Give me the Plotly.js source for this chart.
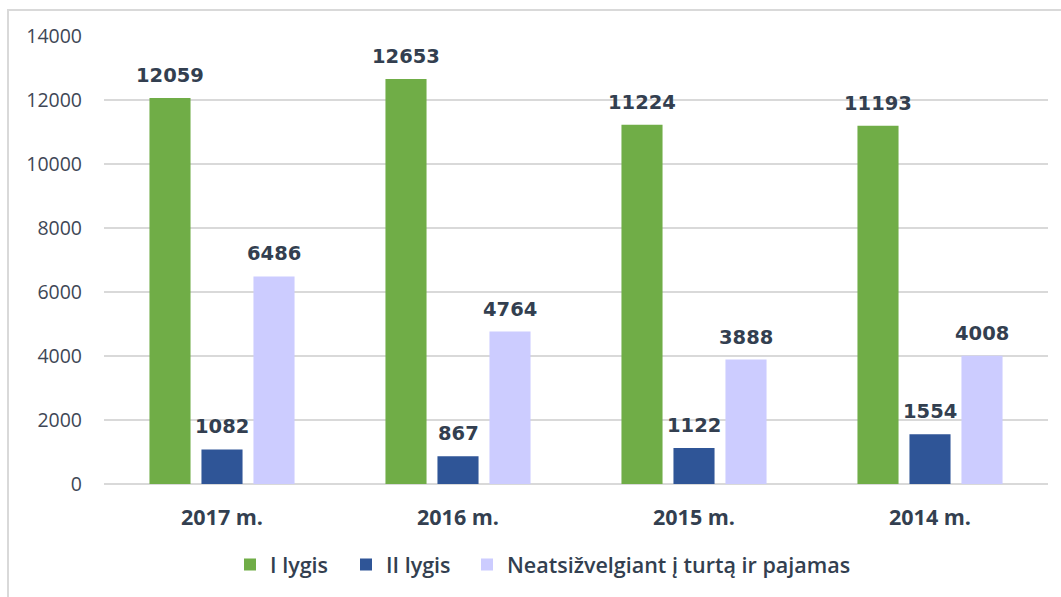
<!DOCTYPE html>
<html>
<head>
<meta charset="utf-8">
<script src="https://cdn.plot.ly/plotly-3.0.1.min.js"></script>
<style>html,body{margin:0;padding:0;background:#fff;}#chart{width:1061px;height:597px;}</style>
</head>
<body>
<div id="chart"></div>
<script>
const categories = ["2017 m.", "2016 m.", "2015 m.", "2014 m."];
const seriesNames = ["I lygis", "II lygis", "Neatsižvelgiant į turtą ir pajamas"];
const lygis1 = [12059, 12653, 11224, 11193];
const lygis2 = [1082, 867, 1122, 1554];
const neatsizvelgiant = [6486, 4764, 3888, 4008];
const yTicks = [0, 2000, 4000, 6000, 8000, 10000, 12000, 14000];

const colors = ["#70AD47", "#2F5597", "#CCCCFF"];
const seriesValues = [lygis1, lygis2, neatsizvelgiant];
const labelColor = "#333F50";
const legendIds = ["legend", "legend2", "legend3"];

const traces = seriesValues.map((vals, i) => ({
  type: "bar",
  name: seriesNames[i],
  x: categories,
  y: vals,
  marker: {color: colors[i]},
  legend: legendIds[i],
  hoverinfo: "x+y+name"
}));

const slot = 52; // px per bar slot inside a group
const annotations = [];
seriesValues.forEach((vals, i) => {
  vals.forEach((v, j) => {
    annotations.push({
      x: categories[j], y: v, xref: "x", yref: "y",
      text: String(v), showarrow: false,
      xshift: (i - 1) * slot, yanchor: "bottom", yshift: 9,
      font: {family: "DejaVu Sans", size: 19.5, color: labelColor, weight: "bold"}
    });
  });
});

const shapes = [{
  type: "rect", xref: "paper", yref: "paper",
  x0: (8 - 104) / 944, x1: (1066 - 104) / 944,
  y0: (486 - 10) / 450, y1: (486 - 602) / 450,
  line: {color: "#D9D9D9", width: 2}, fillcolor: "rgba(0,0,0,0)", layer: "below"
}];

const legendLeftPx = [230, 346, 467];
function legendAt(px) {
  return {
    orientation: "h", x: (px - 104) / 944, xanchor: "left", y: -0.18, yanchor: "middle",
    font: {family: "Open Sans", size: 21.5, color: labelColor, weight: 600},
    itemwidth: 30, tracegroupgap: 0, bgcolor: "rgba(0,0,0,0)"
  };
}

const layout = {
  width: 1061, height: 597,
  margin: {l: 104, r: 13, t: 36, b: 111},
  paper_bgcolor: "#ffffff", plot_bgcolor: "#ffffff",
  barmode: "group", bargap: 0.339, bargroupgap: 0.21,
  showlegend: true,
  legend: legendAt(legendLeftPx[0]),
  legend2: legendAt(legendLeftPx[1]),
  legend3: legendAt(legendLeftPx[2]),
  xaxis: {
    type: "category", showgrid: false, zeroline: false, showline: false,
    ticks: "", tickfont: {family: "Open Sans", size: 21.5, color: labelColor, weight: "bold"},
    ticklabelstandoff: 18
  },
  yaxis: {
    range: [0, 14000], tickvals: yTicks, ticktext: yTicks.map(String),
    showgrid: true, gridcolor: "#D9D9D9", gridwidth: 1.5,
    zeroline: true, zerolinecolor: "#D9D9D9", zerolinewidth: 1.5,
    showline: false, ticks: "",
    tickfont: {family: "Open Sans", size: 19.5, color: "#3E4756"},
    ticklabelstandoff: 21
  },
  annotations: annotations,
  shapes: shapes
};

Plotly.newPlot("chart", traces, layout, {displayModeBar: false, responsive: false});
</script>
</body>
</html>
